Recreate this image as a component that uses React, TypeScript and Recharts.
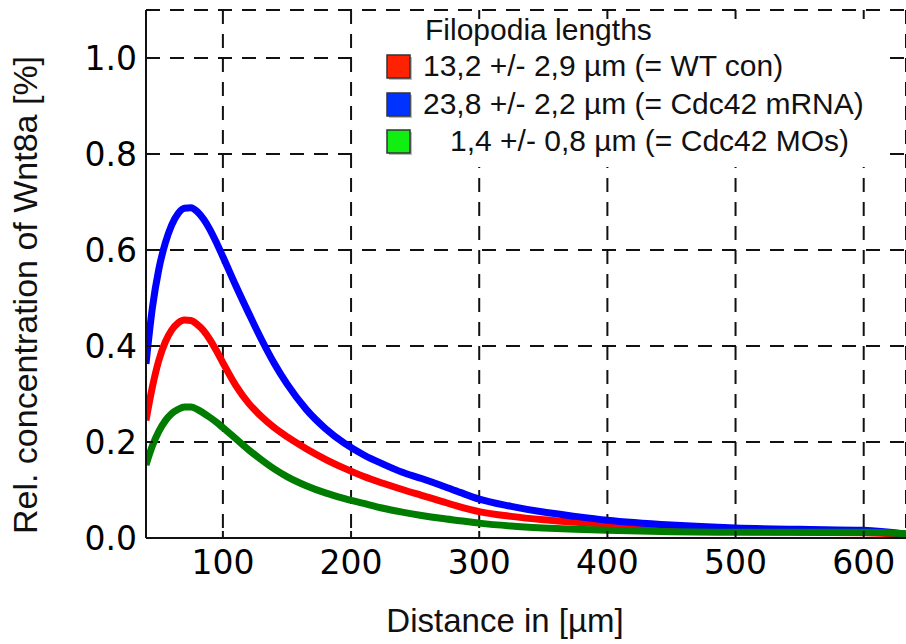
import React from "react";
import {
  CartesianGrid,
  Customized,
  Line,
  LineChart,
  XAxis,
  YAxis,
} from "recharts";

// distance from source, in µm
const DISTANCE = [
  40, 45, 50, 55, 60, 65, 70, 75, 80, 85, 90, 95, 100, 110, 120, 130, 140, 150,
  165, 180, 195, 210, 225, 240, 255, 270, 285, 300, 325, 350, 375, 400, 450,
  500, 550, 600, 633,
];

// 13,2 +/- 2,9 µm (= WT con)
const WT_CON = [
  0.245, 0.315, 0.37, 0.408, 0.433, 0.448, 0.454, 0.453, 0.445, 0.432, 0.413,
  0.39, 0.365, 0.318, 0.281, 0.253, 0.23, 0.211, 0.186, 0.164, 0.145, 0.128,
  0.114, 0.101, 0.089, 0.077, 0.065, 0.055, 0.045, 0.038, 0.033, 0.028, 0.019,
  0.014, 0.012, 0.011, 0.007,
];

// 23,8 +/- 2,2 µm (= Cdc42 mRNA)
const CDC42_MRNA = [
  0.363, 0.48, 0.56, 0.614, 0.652, 0.676, 0.687, 0.688, 0.68, 0.664, 0.642,
  0.615, 0.586, 0.526, 0.469, 0.414, 0.364, 0.321, 0.268, 0.228, 0.197, 0.173,
  0.154, 0.137, 0.124, 0.11, 0.095, 0.081, 0.066, 0.054, 0.045, 0.037, 0.027,
  0.021, 0.018, 0.016, 0.008,
];

// 1,4 +/- 0,8 µm (= Cdc42 MOs)
const CDC42_MOS = [
  0.152, 0.192, 0.222, 0.244, 0.259, 0.268, 0.273, 0.273, 0.268, 0.26, 0.251,
  0.241, 0.23, 0.207, 0.184, 0.163, 0.144, 0.128, 0.109, 0.094, 0.082, 0.072,
  0.062, 0.054, 0.047, 0.041, 0.036, 0.031, 0.025, 0.021, 0.018, 0.016, 0.013,
  0.012, 0.012, 0.012, 0.009,
];

const X_TICKS = [100, 200, 300, 400, 500, 600];
const Y_TICKS = [0, 0.2, 0.4, 0.6, 0.8, 1.0];

const LEGEND_TITLE = "Filopodia lengths";
const LEGEND_ITEMS = [
  { label: "13,2 +/- 2,9 µm (= WT con)", swatch: "#ff2200" },
  { label: "23,8 +/- 2,2 µm (= Cdc42 mRNA)", swatch: "#0033ff" },
  { label: "1,4 +/- 0,8 µm (= Cdc42 MOs)", swatch: "#11ee11" },
];

const X_LABEL = "Distance in [µm]";
const Y_LABEL = "Rel. concentration of Wnt8a [%]";

const data = DISTANCE.map((d, i) => ({
  d,
  wt: WT_CON[i],
  mrna: CDC42_MRNA[i],
  mos: CDC42_MOS[i],
}));

const SANS = "'Liberation Sans', Arial, Helvetica, sans-serif";
const TICK_FONT = { fill: "#000", fontSize: 33, fontFamily: "'DejaVu Sans', sans-serif" };
const AXIS_LINE = { stroke: "#111", strokeWidth: 2 };

function ChartLabels() {
  const rowX = [423, 423, 450];
  const rowY = [76, 113.5, 151];
  const swatchY = [55, 93, 130];
  return (
    <g>
      <rect x={360} y={19} width={530} height={148} fill="#fff" />
      <text x={425} y={40} fontSize={30} fontFamily={SANS} fill="#111">
        {LEGEND_TITLE}
      </text>
      {LEGEND_ITEMS.map((item, i) => (
        <g key={item.label}>
          <rect x={389} y={swatchY[i] + 2} width={23} height={23} fill="#bbb" />
          <rect
            x={387}
            y={swatchY[i]}
            width={23}
            height={23}
            fill={item.swatch}
            stroke="#333"
            strokeWidth={1.5}
          />
          <text x={rowX[i]} y={rowY[i]} fontSize={30} fontFamily={SANS} fill="#111">
            {item.label}
          </text>
        </g>
      ))}
      <text x={505} y={632} fontSize={33} fontFamily={SANS} fill="#111" textAnchor="middle">
        {X_LABEL}
      </text>
      <text
        x={37}
        y={295}
        fontSize={34}
        fontFamily={SANS}
        fill="#111"
        textAnchor="middle"
        transform="rotate(-90 37 295)"
      >
        {Y_LABEL}
      </text>
    </g>
  );
}

export default function App() {
  return (
    <div style={{ position: "absolute", left: 0, top: 0, width: 906, height: 644, background: "#fff" }}>
      <LineChart width={906} height={644} data={data} margin={{ top: 10, right: 0, bottom: 0, left: 0 }}>
        <CartesianGrid stroke="#111" strokeWidth={2} strokeDasharray="14 10" />
        <XAxis
          type="number"
          dataKey="d"
          domain={[40, 633]}
          allowDataOverflow
          ticks={X_TICKS}
          interval={0}
          height={106}
          tick={TICK_FONT}
          tickSize={-7}
          tickMargin={20}
          tickLine={AXIS_LINE}
          axisLine={AXIS_LINE}
        />
        <XAxis
          xAxisId="top"
          orientation="top"
          type="number"
          dataKey="d"
          domain={[40, 633]}
          allowDataOverflow
          ticks={X_TICKS}
          interval={0}
          height={0}
          tickFormatter={() => ""}
          tickSize={-7}
          tickLine={AXIS_LINE}
          axisLine={AXIS_LINE}
        />
        <YAxis
          type="number"
          domain={[0, 1.1]}
          allowDataOverflow
          ticks={Y_TICKS}
          interval={0}
          width={146}
          tick={TICK_FONT}
          tickFormatter={(v: number) => v.toFixed(1)}
          tickSize={-7}
          tickMargin={16}
          tickLine={AXIS_LINE}
          axisLine={AXIS_LINE}
        />
        <Line type="monotone" dataKey="wt" stroke="#ff0000" strokeWidth={7} dot={false} isAnimationActive={false} />
        <Line type="monotone" dataKey="mrna" stroke="#0000ff" strokeWidth={7} dot={false} isAnimationActive={false} />
        <Line type="monotone" dataKey="mos" stroke="#007d00" strokeWidth={7} dot={false} isAnimationActive={false} />
        <Customized component={ChartLabels} />
      </LineChart>
    </div>
  );
}
